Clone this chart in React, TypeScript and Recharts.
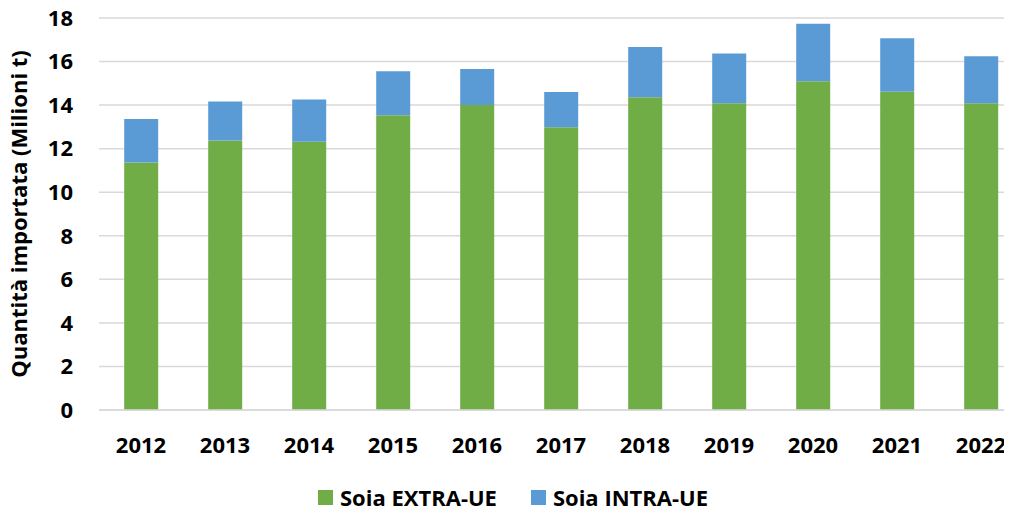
import React from 'react';
import { BarChart, Bar, XAxis, YAxis, CartesianGrid, Legend } from 'recharts';

const years = ['2012', '2013', '2014', '2015', '2016', '2017', '2018', '2019', '2020', '2021', '2022'];
const extraUE = [11.37, 12.38, 12.32, 13.53, 14.01, 12.98, 14.36, 14.09, 15.09, 14.61, 14.08];
const intraUE = [1.99, 1.79, 1.94, 2.02, 1.65, 1.62, 2.31, 2.28, 2.65, 2.46, 2.16];
const yTicks = [0, 2, 4, 6, 8, 10, 12, 14, 16, 18];

const seriesNames = { extra: 'Soia EXTRA-UE', intra: 'Soia INTRA-UE' };
const colors = { extra: '#70AD47', intra: '#5B9BD5' };

const data = years.map((y, i) => ({ year: y, extra: extraUE[i], intra: intraUE[i] }));

const FONT = '"Open Sans", sans-serif';

const renderLegend = (props: any) => {
  const { payload } = props;
  return (
    <div style={{ display: 'flex', alignItems: 'center', height: 24, fontFamily: FONT, fontWeight: 700, fontSize: 22, color: '#000' }}>
      {payload.map((p: any, i: number) => (
        <div key={i} style={{ display: 'flex', alignItems: 'center', marginRight: i === 0 ? 34 : 0 }}>
          <div style={{ width: 15, height: 15, background: p.color, marginRight: 7 }} />
          <span style={{ lineHeight: '24px', whiteSpace: 'nowrap' }}>{p.value}</span>
        </div>
      ))}
    </div>
  );
};

export default function App() {
  return (
    <div style={{ position: 'relative', margin: '-8px -8px 0 -8px', width: 1012, height: 513, overflow: 'hidden', background: '#fff' }}>
      <BarChart
        width={1023}
        height={513}
        data={data}
        margin={{ top: 18, right: 0, bottom: 0, left: 0 }}
        barCategoryGap="30%"
      >
        <CartesianGrid vertical={false} stroke="#D9D9D9" strokeWidth={1.5} />
        <XAxis
          dataKey="year"
          height={79}
          tickLine={false}
          tickSize={0}
          tickMargin={27}
          axisLine={{ stroke: '#D9D9D9', strokeWidth: 1.5 }}
          tick={{ fontFamily: FONT, fontWeight: 700, fontSize: 22, fill: '#000' }}
          interval={0}
        />
        <YAxis
          width={99}
          domain={[0, 18]}
          ticks={yTicks}
          interval={0}
          tickLine={false}
          axisLine={false}
          tickSize={0}
          tickMargin={26}
          tick={{ fontFamily: FONT, fontWeight: 700, fontSize: 22, fill: '#000' }}
          label={{
            value: 'Quantità importata (Milioni t)',
            angle: -90,
            position: 'insideLeft',
            dx: 14,
            style: { fontFamily: FONT, fontWeight: 700, fontSize: 22, fill: '#000', textAnchor: 'middle' },
          }}
        />
        <Legend
          content={renderLegend}
          verticalAlign="bottom"
          height={24}
          wrapperStyle={{ top: 485, left: 318, width: 500, height: 24, bottom: 'auto' }}
        />
        <Bar dataKey="extra" name={seriesNames.extra} stackId="a" fill={colors.extra} isAnimationActive={false} />
        <Bar dataKey="intra" name={seriesNames.intra} stackId="a" fill={colors.intra} isAnimationActive={false} />
      </BarChart>
    </div>
  );
}
